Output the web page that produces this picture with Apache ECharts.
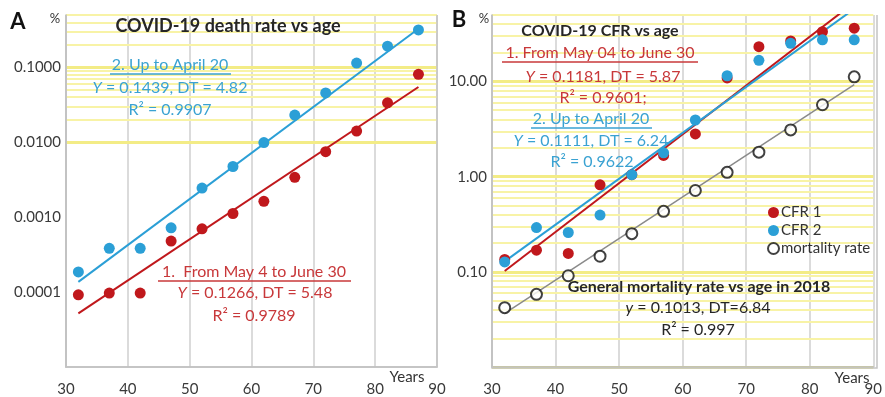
<!DOCTYPE html>
<html><head><meta charset="utf-8">
<script src="https://cdn.jsdelivr.net/npm/echarts@6/dist/echarts.min.js"></script>
<style>html,body{margin:0;padding:0;background:#fff}#c{width:885px;height:397px}</style>
</head><body><div id="c"></div>
<script>
// ---- data ----
const ages = [32, 37, 42, 47, 52, 57, 62, 67, 72, 77, 82, 87];
// Panel A (COVID-19 death rate, %)
const aRate1 = [0.000092, 0.000097, 0.000097, 0.00048, 0.00070, 0.00112, 0.00163, 0.0034, 0.0075, 0.0141, 0.0336, 0.0807]; // From May 4 to June 30
const aRate2 = [0.000186, 0.000384, 0.000384, 0.00072, 0.00245, 0.00475, 0.0099, 0.0231, 0.0456, 0.114, 0.192, 0.316];    // Up to April 20
const fitAges = [32, 87];
const aFit1 = [0.000052, 0.0547];
const aFit2 = [0.000137, 0.327];
// Panel B (COVID-19 CFR, %)
const bCfr1 = [0.135, 0.169, 0.156, 0.822, 1.05, 1.67, 2.81, 10.9, 23.2, 26.7, 33.4, 36.3];
const bCfr2 = [0.127, 0.292, 0.259, 0.395, 1.05, 1.78, 3.94, 11.5, 16.7, 25.2, 27.4, 27.4];
const bMort = [0.042, 0.058, 0.091, 0.146, 0.252, 0.432, 0.716, 1.11, 1.81, 3.10, 5.70, 11.2];
const bFit1 = [0.102, 67.6];
const bFit2 = [0.129, 58];
const bFitMort = [0.0367, 9.3];
// axes
const xTicks = [30, 40, 50, 60, 70, 80, 90];
const aYTicks = [0.0001, 0.001, 0.01, 0.1];
const aYLabels = ['0.0001', '0.0010', '0.0100', '0.1000'];
const bYTicks = [0.1, 1, 10];
const bYLabels = ['0.10', '1.00', '10.00'];
const aRange = [0.00001, 0.5];
const bRange = [0.01, 50];

const RED = '#c0181c', BLUE = '#2b9fd6', RTXT = '#c8383a', BTXT = '#3aa2d2';
const FONT = 'Lato';

function pairs(xs, ys) { return xs.map((x, i) => [x, ys[i]]); }
function gridLines(range) {
  const out = [];
  let k = Math.floor(Math.log10(range[0]) + 1e-9);
  for (; Math.pow(10, k) <= range[1] * 1.0001; k++) {
    for (let m = 1; m <= 9; m++) {
      const v = m * Math.pow(10, k);
      if (v < range[0] * 0.9999 || v > range[1] * 1.0001) continue;
      if (m === 1) out.push({ yAxis: v, lineStyle: { width: 3, color: '#f3ec86' } });
      else out.push({ yAxis: v });
    }
  }
  return out;
}
function yLabelFmt(ticks, labels) {
  return function (v) {
    for (let i = 0; i < ticks.length; i++) {
      if (Math.abs(Math.log10(v) - Math.log10(ticks[i])) < 1e-6) return labels[i];
    }
    return '';
  };
}
function xAxis(idx) {
  return {
    gridIndex: idx, type: 'value', min: xTicks[0], max: xTicks[xTicks.length - 1], interval: 10,
    axisLine: { show: true, lineStyle: { color: '#b8b8b8', width: 1.5 } },
    axisTick: { show: false },
    axisLabel: { fontFamily: FONT, fontSize: 15, color: '#3a3a3a', margin: 15 },
    splitLine: { show: true, lineStyle: { color: '#cfcfcf', width: 1.5 } }
  };
}
function yAxis(idx, range, ticks, labels) {
  return {
    gridIndex: idx, type: 'log', logBase: 10, min: range[0], max: range[1],
    axisLine: { show: true, lineStyle: { color: '#b8b8b8', width: 1.5 } },
    axisTick: { show: false },
    axisLabel: { fontFamily: FONT, fontSize: 15, color: '#3a3a3a', margin: 5, formatter: yLabelFmt(ticks, labels) },
    splitLine: { show: false }
  };
}
function gridSeries(idx, range) {
  return {
    type: 'line', xAxisIndex: idx, yAxisIndex: idx, data: [], silent: true, z: 0,
    markLine: {
      silent: true, symbol: 'none', animation: false, label: { show: false }, z: 0, zlevel: 0,
      lineStyle: { type: 'solid', color: '#f8f3a6', width: 2 },
      data: gridLines(range)
    }
  };
}
function dots(name, idx, ys, color, z) {
  return { name, type: 'scatter', xAxisIndex: idx, yAxisIndex: idx, data: pairs(ages, ys),
    symbol: 'circle', symbolSize: 11, itemStyle: { color, opacity: 1 }, z: z || 3 };
}
function fit(idx, ys, color, w) {
  return { type: 'line', xAxisIndex: idx, yAxisIndex: idx, data: pairs(fitAges, ys), showSymbol: false,
    symbol: 'none', clip: true, lineStyle: { color, width: w || 2, type: 'solid' }, z: 2, silent: true };
}
function txt(x, y, text, opts) {
  opts = opts || {};
  return { type: 'text', x, y, z: 100, silent: true, style: {
    text, fill: opts.color || '#222', font: (opts.bold ? 'bold ' : '') + (opts.size || 16) + 'px ' + FONT,
    textAlign: opts.align || 'center', textVerticalAlign: 'middle' } };
}
function rtxt(x, y, parts, color) {
  return { type: 'text', x, y, z: 100, silent: true, style: {
    text: parts, fill: color, font: '16px ' + FONT, textAlign: 'center', textVerticalAlign: 'middle',
    rich: { i: { fontStyle: 'italic', fontFamily: FONT, fontSize: 16, fill: color, color: color } } } };
}
function uline(x1, x2, y, color) {
  return { type: 'line', z: 100, silent: true, shape: { x1, y1: y, x2, y2: y }, style: { stroke: color, lineWidth: 1.3 } };
}
function frame(l, t, r, b) {
  return { type: 'polyline', z: 5, silent: true, shape: { points: [[l, t], [l, b], [r, b], [r, t]] },
    style: { stroke: '#c4c4c4', lineWidth: 1.5, fill: null } };
}

const chart = echarts.init(document.getElementById('c'), null, { renderer: 'canvas' });
chart.setOption({
  animation: false,
  backgroundColor: '#fff',
  grid: [
    { left: 66, top: 15, width: 371, height: 352 },
    { left: 492, top: 15, width: 385, height: 353 }
  ],
  xAxis: [xAxis(0), xAxis(1)],
  yAxis: [yAxis(0, aRange, aYTicks, aYLabels), yAxis(1, bRange, bYTicks, bYLabels)],
  legend: {
    data: [
      { name: 'CFR 1', icon: 'circle', itemStyle: { color: RED } },
      { name: 'CFR 2', icon: 'circle', itemStyle: { color: BLUE } },
      { name: 'mortality rate', icon: 'emptyCircle', itemStyle: { color: '#111', borderColor: '#111', borderWidth: 2 } }
    ],
    orient: 'vertical', left: 762, top: 200,
    itemWidth: 11, itemHeight: 11, itemGap: 3,
    textStyle: { fontFamily: FONT, fontSize: 15, color: '#333', padding: [0, 0, 0, -3] }
  },
  series: [
    gridSeries(0, aRange),
    gridSeries(1, bRange),
    fit(0, aFit1, RED), fit(0, aFit2, BLUE),
    dots('A1', 0, aRate1, RED), dots('A2', 0, aRate2, BLUE),
    fit(1, bFitMort, '#8a8a8a', 1.5),
    dots('CFR 1', 1, bCfr1, RED), dots('CFR 2', 1, bCfr2, BLUE, 4),
    { name: 'mortality rate', type: 'scatter', xAxisIndex: 1, yAxisIndex: 1, data: pairs(ages, bMort),
      symbol: 'circle', symbolSize: 11, itemStyle: { color: '#fff', borderColor: '#111', borderWidth: 2 }, z: 4 },
    fit(1, bFit1, RED), fit(1, bFit2, BLUE)
  ],
  graphic: [
    frame(66, 15, 437, 367), frame(492, 15, 877, 368),
    txt(18, 22, 'A', { bold: true, size: 22, color: '#111' }),
    txt(55, 19, '%', { size: 13, color: '#333' }),
    txt(459, 20, 'B', { bold: true, size: 22, color: '#111' }),
    txt(484, 19, '%', { size: 13, color: '#333' }),
    // panel A texts
    txt(228, 26, 'COVID-19 death rate vs age', { bold: true, size: 18, color: '#262626' }),
    txt(170, 65, '2. Up to April 20', { color: BTXT }), uline(110, 231, 74, BTXT),
    rtxt(170, 88, '{i|Y} = 0.1439, DT = 4.82', BTXT),
    txt(170, 110, 'R² = 0.9907', { color: BTXT }),
    txt(254, 272, '1.  From May 4 to June 30', { color: RTXT }), uline(158, 351, 281, RTXT),
    rtxt(255, 293, '{i|Y} = 0.1266, DT = 5.48', RTXT),
    txt(254, 316, 'R² = 0.9789', { color: RTXT }),
    txt(407, 377, 'Years', { size: 15, color: '#333' }),
    // panel B texts
    txt(600, 31, 'COVID-19 CFR vs age', { bold: true, size: 16, color: '#262626' }),
    txt(600, 53, '1. From May 04 to June 30', { color: RTXT }), uline(502, 698, 62, RTXT),
    rtxt(603, 77, '{i|Y} = 0.1181, DT = 5.87', RTXT),
    txt(603, 98, 'R² = 0.9601;', { color: RTXT }),
    txt(591, 119, '2. Up to April 20', { color: BTXT }), uline(531, 652, 128, BTXT),
    rtxt(591, 141, '{i|Y} = 0.1111, DT = 6.24', BTXT),
    txt(592, 162, 'R² = 0.9622', { color: BTXT }),
    txt(699, 287, 'General mortality rate vs age in 2018', { bold: true, size: 16, color: '#262626' }),
    rtxt(698, 308, '{i|y} = 0.1013, DT=6.84', '#262626'),
    txt(698, 330, 'R² = 0.997', { color: '#262626' }),
    txt(852, 378, 'Years', { size: 15, color: '#333' })
  ]
});
</script>
</body></html>
